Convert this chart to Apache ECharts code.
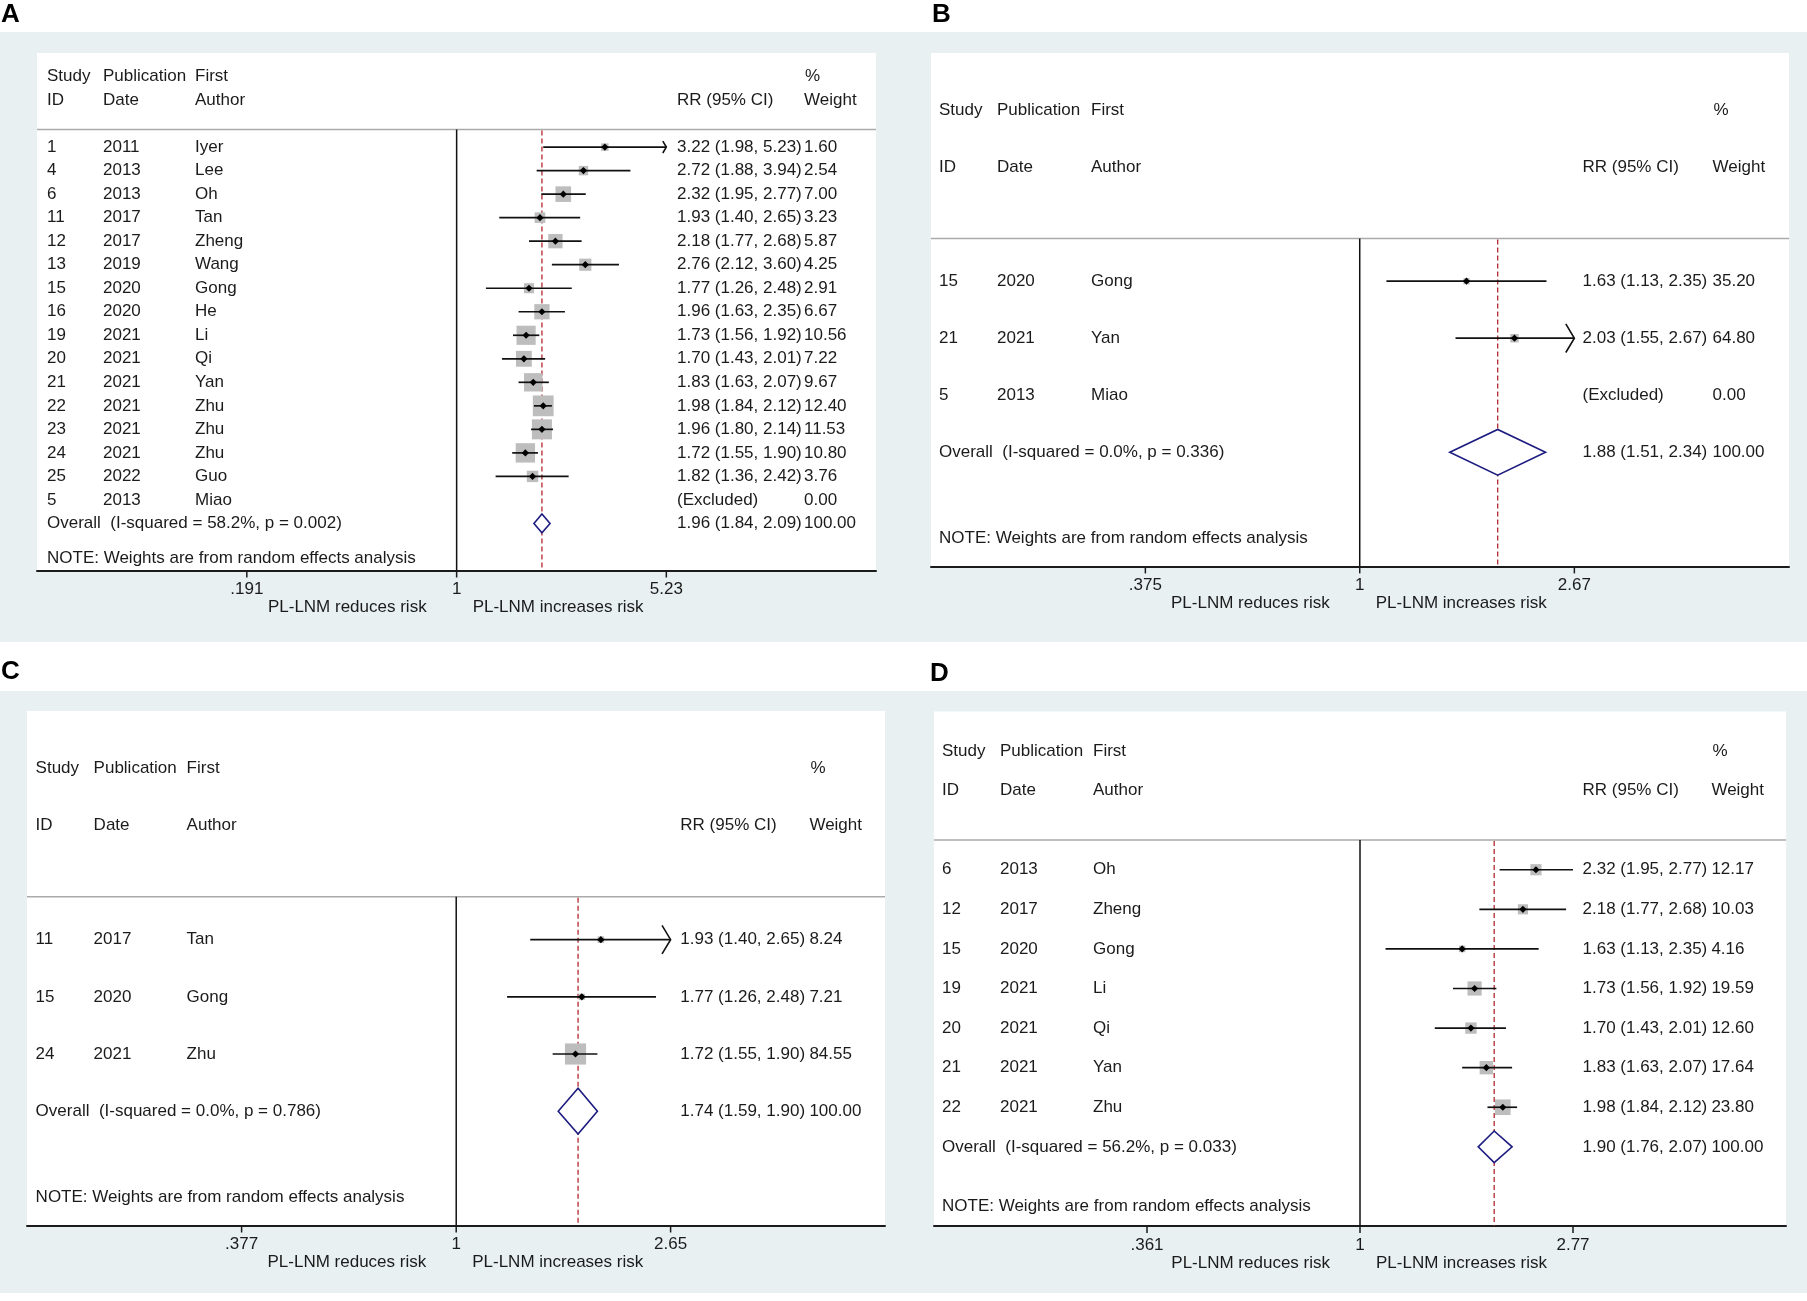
<!DOCTYPE html>
<html>
<head>
<meta charset="utf-8">
<script src="https://cdn.jsdelivr.net/npm/echarts@6/dist/echarts.min.js"></script>
<style>
  html, body { margin: 0; padding: 0; background: #fff; }
  #chart { width: 1807px; height: 1301px; }
</style>
</head>
<body>
<div id="chart"></div>
<script>
// ---- A: all studies
const aIds = [1, 4, 6, 11, 12, 13, 15, 16, 19, 20, 21, 22, 23, 24, 25, 5];
const aYears = [2011, 2013, 2013, 2017, 2017, 2019, 2020, 2020, 2021, 2021, 2021, 2021, 2021, 2021, 2022, 2013];
const aAuthors = ['Iyer', 'Lee', 'Oh', 'Tan', 'Zheng', 'Wang', 'Gong', 'He', 'Li', 'Qi', 'Yan', 'Zhu', 'Zhu', 'Zhu', 'Guo', 'Miao'];
const aRR = [3.22, 2.72, 2.32, 1.93, 2.18, 2.76, 1.77, 1.96, 1.73, 1.70, 1.83, 1.98, 1.96, 1.72, 1.82, null];
const aLo = [1.98, 1.88, 1.95, 1.40, 1.77, 2.12, 1.26, 1.63, 1.56, 1.43, 1.63, 1.84, 1.80, 1.55, 1.36, null];
const aHi = [5.23, 3.94, 2.77, 2.65, 2.68, 3.60, 2.48, 2.35, 1.92, 2.01, 2.07, 2.12, 2.14, 1.90, 2.42, null];
const aWeight = [1.60, 2.54, 7.00, 3.23, 5.87, 4.25, 2.91, 6.67, 10.56, 7.22, 9.67, 12.40, 11.53, 10.80, 3.76, 0.00];
const aArrows = [0];
const aOverall = [1.96, 1.84, 2.09];
const aHet = [58.2, 0.002];
const aTicks = ['.191', '1', '5.23'];

// ---- B
const bIds = [15, 21, 5];
const bYears = [2020, 2021, 2013];
const bAuthors = ['Gong', 'Yan', 'Miao'];
const bRR = [1.63, 2.03, null];
const bLo = [1.13, 1.55, null];
const bHi = [2.35, 2.67, null];
const bWeight = [35.20, 64.80, 0.00];
const bArrows = [1];
const bOverall = [1.88, 1.51, 2.34];
const bHet = [0.0, 0.336];
const bTicks = ['.375', '1', '2.67'];

// ---- C
const cIds = [11, 15, 24];
const cYears = [2017, 2020, 2021];
const cAuthors = ['Tan', 'Gong', 'Zhu'];
const cRR = [1.93, 1.77, 1.72];
const cLo = [1.40, 1.26, 1.55];
const cHi = [2.65, 2.48, 1.90];
const cWeight = [8.24, 7.21, 84.55];
const cArrows = [0];
const cOverall = [1.74, 1.59, 1.90];
const cHet = [0.0, 0.786];
const cTicks = ['.377', '1', '2.65'];

// ---- D
const dIds = [6, 12, 15, 19, 20, 21, 22];
const dYears = [2013, 2017, 2020, 2021, 2021, 2021, 2021];
const dAuthors = ['Oh', 'Zheng', 'Gong', 'Li', 'Qi', 'Yan', 'Zhu'];
const dRR = [2.32, 2.18, 1.63, 1.73, 1.70, 1.83, 1.98];
const dLo = [1.95, 1.77, 1.13, 1.56, 1.43, 1.63, 1.84];
const dHi = [2.77, 2.68, 2.35, 1.92, 2.01, 2.07, 2.12];
const dWeight = [12.17, 10.03, 4.16, 19.59, 12.60, 17.64, 23.80];
const dArrows = [];
const dOverall = [1.90, 1.76, 2.07];
const dHet = [56.2, 0.033];
const dTicks = ['.361', '1', '2.77'];

const leftTitle = 'PL-LNM reduces risk';
const rightTitle = 'PL-LNM increases risk';
const noteText = 'NOTE: Weights are from random effects analysis';

// 面板布局 (像素) 与数据分开
const panels = [
  { letter: 'A', lx: 1, ly: 15, ids: aIds, years: aYears, authors: aAuthors, rr: aRR, lo: aLo, hi: aHi, weight: aWeight,
    arrows: aArrows, overall: aOverall, het: aHet, ticks: aTicks,
    left: 37, top: 53, width: 839, height: 517.5, boxScale: 5.9, cols: [10, 66, 158, 640, 767] },
  { letter: 'B', lx: 932, ly: 15, ids: bIds, years: bYears, authors: bAuthors, rr: bRR, lo: bLo, hi: bHi, weight: bWeight,
    arrows: bArrows, overall: bOverall, het: bHet, ticks: bTicks,
    left: 931, top: 53, width: 858, height: 513.4, boxScale: 1.05, cols: [8, 66, 160, 651.5, 781.5] },
  { letter: 'C', lx: 1, ly: 672, ids: cIds, years: cYears, authors: cAuthors, rr: cRR, lo: cLo, hi: cHi, weight: cWeight,
    arrows: cArrows, overall: cOverall, het: cHet, ticks: cTicks,
    left: 27, top: 711, width: 858, height: 514.5, boxScale: 2.3, cols: [8.6, 66.6, 159.6, 653.3, 782.4] },
  { letter: 'D', lx: 930, ly: 674, ids: dIds, years: dYears, authors: dAuthors, rr: dRR, lo: dLo, hi: dHi, weight: dWeight,
    arrows: dArrows, overall: dOverall, het: dHet, ticks: dTicks,
    left: 934, top: 711.4, width: 852, height: 514.6, boxScale: 3.2, cols: [8, 66, 159, 648.5, 777.4] }
];

const FONT = '17px "Liberation Sans", Arial, sans-serif';
const INK = '#1b1b1b';

function f2(v) { return v.toFixed(2); }

function txt(x, y, s, align) {
  return { type: 'text', x: x, y: y, silent: true,
    style: { text: s, fill: INK, font: FONT, align: align || 'left', verticalAlign: 'middle' } };
}

function seg(x1, y1, x2, y2, stroke, w, dash) {
  return { type: 'line', silent: true, shape: { x1: x1, y1: y1, x2: x2, y2: y2 },
    style: { stroke: stroke, lineWidth: w, lineDash: dash || null } };
}

// 每一行: 文字 + 置信区间 + 方块
function rowRenderer(p) {
  return function (params, api) {
    const i = api.value(1);
    const cs = params.coordSys;
    const c = p.cols;
    const y = api.coord([1, i])[1];
    const step = api.coord([1, i + 1])[1] - y;
    const kids = [
      txt(cs.x + c[0], y, String(p.ids[i])),
      txt(cs.x + c[1], y, String(p.years[i])),
      txt(cs.x + c[2], y, p.authors[i])
    ];
    if (p.rr[i] == null) {
      kids.push(txt(cs.x + c[3], y, '(Excluded)'));
    } else {
      const xr = api.coord([p.rr[i], i])[0];
      const xl = api.coord([p.lo[i], i])[0];
      const xh = api.coord([p.hi[i], i])[0];
      const side = p.boxScale * Math.sqrt(p.weight[i]);
      kids.push({ type: 'rect', silent: true, shape: { x: xr - side / 2, y: y - side / 2, width: side, height: side },
        style: { fill: '#bdbdbd' } });
      kids.push(seg(xl, y, xh, y, '#111', 1.7));
      if (p.arrows.indexOf(i) >= 0) {
        const ah = step * 0.25, aw = ah * 0.6;
        kids.push({ type: 'polyline', silent: true,
          shape: { points: [[xh - aw, y - ah], [xh, y], [xh - aw, y + ah]] },
          style: { stroke: '#111', lineWidth: 1.6, fill: null } });
      }
      kids.push({ type: 'polygon', silent: true,
        shape: { points: [[xr - 3.6, y], [xr, y - 3.6], [xr + 3.6, y], [xr, y + 3.6]] },
        style: { fill: '#000' } });
      kids.push(txt(cs.x + c[3], y, f2(p.rr[i]) + ' (' + f2(p.lo[i]) + ', ' + f2(p.hi[i]) + ')'));
    }
    kids.push(txt(cs.x + c[4], y, f2(p.weight[i])));
    return { type: 'group', children: kids };
  };
}

// 表头, 参考线, 合并菱形, 坐标刻度
function frameRenderer(p) {
  const n = p.ids.length + 1;
  return function (params, api) {
    const cs = params.coordSys;
    const c = p.cols;
    const axisY = cs.y + cs.height;
    const sepY = api.coord([1, -0.75])[1];
    const x1 = api.coord([1, 0])[0];
    const xo = api.coord([p.overall[0], 0])[0];
    const kids = [];
    kids.push(seg(cs.x, sepY, cs.x + cs.width, sepY, '#aaaaaa', 1.5));
    kids.push(seg(x1, sepY, x1, axisY, '#111', 1.5));
    kids.push(seg(xo, sepY + 1, xo, axisY, '#b02a30', 1.3, [5, 3]));

    const h1 = api.coord([1, -3])[1], h2 = api.coord([1, -2])[1];
    kids.push(txt(cs.x + c[0], h1, 'Study'), txt(cs.x + c[1], h1, 'Publication'), txt(cs.x + c[2], h1, 'First'),
      txt(cs.x + c[4] + 1, h1, '%'));
    kids.push(txt(cs.x + c[0], h2, 'ID'), txt(cs.x + c[1], h2, 'Date'), txt(cs.x + c[2], h2, 'Author'),
      txt(cs.x + c[3], h2, 'RR (95% CI)'), txt(cs.x + c[4], h2, 'Weight'));

    // overall
    const ov = n - 1;
    const yo = api.coord([1, ov])[1];
    const dh = (api.coord([1, ov + 1])[1] - yo) * 0.4;
    const pl = api.coord([p.overall[1], ov]), ph = api.coord([p.overall[2], ov]);
    kids.push({ type: 'polygon', silent: true,
      shape: { points: [[pl[0], yo], [xo, yo - dh], [ph[0], yo], [xo, yo + dh]] },
      style: { fill: '#fff', stroke: '#1c1c80', lineWidth: 1.6 } });
    kids.push(txt(cs.x + c[0], yo, 'Overall  (I-squared = ' + p.het[0].toFixed(1) + '%, p = ' + p.het[1].toFixed(3) + ')'));
    kids.push(txt(cs.x + c[3], yo, f2(p.overall[0]) + ' (' + f2(p.overall[1]) + ', ' + f2(p.overall[2]) + ')'));
    kids.push(txt(cs.x + c[4], yo, '100.00'));

    kids.push(txt(cs.x + c[0], api.coord([1, n + 0.5])[1], noteText));

    p.ticks.forEach(function (t) {
      const xt = api.coord([Number(t), 0])[0];
      kids.push(seg(xt, axisY, xt, axisY + 7, '#1b1b1b', 1.5));
      kids.push(txt(xt, axisY + 19, t, 'center'));
    });
    kids.push(txt(x1 - 30, axisY + 37, leftTitle, 'right'));
    kids.push(txt(x1 + 16, axisY + 37, rightTitle, 'left'));
    return { type: 'group', children: kids };
  };
}

const grids = [], xAxes = [], yAxes = [], series = [], graphics = [];

graphics.push({ type: 'rect', z: -100, silent: true, shape: { x: 0, y: 32, width: 1807, height: 610 }, style: { fill: '#e8f0f2' } });
graphics.push({ type: 'rect', z: -100, silent: true, shape: { x: 0, y: 691, width: 1807, height: 602 }, style: { fill: '#e8f0f2' } });

panels.forEach(function (p, k) {
  const n = p.ids.length + 1;
  const tLo = Number(p.ticks[0]), tHi = Number(p.ticks[p.ticks.length - 1]);
  grids.push({ left: p.left, top: p.top, width: p.width, height: p.height, show: true,
    backgroundColor: '#ffffff', borderWidth: 0 });
  xAxes.push({ type: 'log', gridIndex: k, min: tLo * tLo, max: tHi * tHi, position: 'bottom',
    axisLine: { show: true, onZero: false, lineStyle: { color: '#1b1b1b', width: 2 } },
    axisTick: { show: false }, axisLabel: { show: false }, splitLine: { show: false } });
  yAxes.push({ type: 'value', gridIndex: k, inverse: true, min: -4, max: n + 1, show: false,
    splitLine: { show: false } });
  series.push({ type: 'custom', xAxisIndex: k, yAxisIndex: k, renderItem: frameRenderer(p),
    data: [[1, 0]], encode: { x: 0, y: 1 }, z: 2 });
  series.push({ type: 'custom', xAxisIndex: k, yAxisIndex: k, renderItem: rowRenderer(p),
    data: p.ids.map(function (_, i) { return [p.rr[i] == null ? 1 : p.rr[i], i]; }),
    encode: { x: 0, y: 1 }, z: 3 });
  graphics.push({ type: 'text', x: p.lx, y: p.ly, silent: true,
    style: { text: p.letter, fill: '#000', font: 'bold 26px "Liberation Sans", Arial, sans-serif',
      align: 'left', verticalAlign: 'middle' } });
});

const chart = echarts.init(document.getElementById('chart'), null, { renderer: 'canvas' });
chart.setOption({
  animation: false,
  backgroundColor: '#ffffff',
  grid: grids,
  xAxis: xAxes,
  yAxis: yAxes,
  series: series,
  graphic: graphics
});
</script>
</body>
</html>
